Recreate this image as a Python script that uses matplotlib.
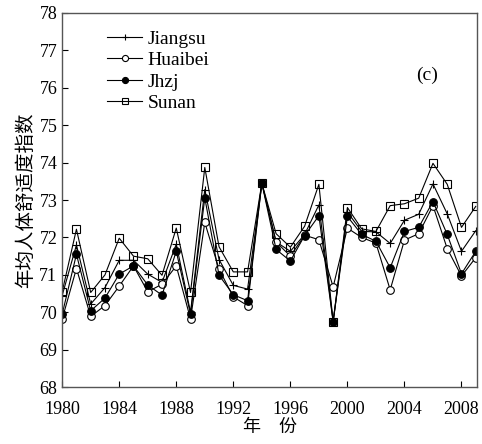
import matplotlib.pyplot as plt
import numpy as np

years = np.arange(1980, 2010)

jiangsu = [70.45, 71.8, 70.22, 70.66, 71.39, 71.39, 71.02, 70.8, 71.82, 70.0,
           73.28, 71.41, 70.72, 70.62, 73.45, 71.88, 71.63, 72.08, 72.87, 69.75,
           72.68, 72.16, 72.15, 71.84, 72.46, 72.62, 73.43, 72.63, 71.63, 72.18]
huaibei = [69.82, 71.17, 69.89, 70.18, 70.7, 71.24, 70.55, 70.75, 71.24, 69.82,
           72.4, 71.15, 70.41, 70.18, 73.45, 71.88, 71.5, 72.06, 71.94, 70.68,
           72.25, 72.0, 71.85, 70.6, 71.93, 72.1, 72.85, 71.7, 70.97, 71.46]
jhzj = [69.95, 71.55, 70.04, 70.38, 71.02, 71.24, 70.73, 70.46, 71.63, 69.95,
        73.06, 70.99, 70.47, 70.31, 73.45, 71.68, 71.37, 72.05, 72.58, 69.75,
        72.56, 72.08, 71.9, 71.19, 72.16, 72.27, 72.96, 72.08, 71.03, 71.63]
sunan = [70.55, 72.22, 70.53, 71.0, 71.98, 71.5, 71.43, 70.99, 72.25, 70.53,
         73.87, 71.75, 71.08, 71.08, 73.45, 72.1, 71.74, 72.3, 73.42, 69.75,
         72.8, 72.23, 72.16, 72.85, 72.9, 73.05, 73.98, 73.42, 72.27, 72.83]

plt.rcParams['font.family'] = ['Liberation Serif', 'Noto Sans CJK SC']

fig = plt.figure(figsize=(4.82, 4.44), dpi=100)
ax = fig.add_axes([0.129, 0.128, 0.861, 0.843])

# series: marker style per region
ax.plot(years, jiangsu, color='black', lw=0.8, marker='+', ms=6, mew=0.8,
        label='Jiangsu')
ax.plot(years, huaibei, color='black', lw=0.8, marker='o', ms=5.5, mfc='white',
        mew=0.8, label='Huaibei')
ax.plot(years, jhzj, color='black', lw=0.8, marker='o', ms=5.5, mfc='black',
        mew=0.8, label='Jhzj')
ax.plot(years, sunan, color='black', lw=0.8, marker='s', ms=5.5, mfc='none',
        mew=0.8, label='Sunan')

ax.set_xlim(1980, 2009.1)
ax.set_ylim(68, 78)
ax.set_xticks(np.arange(1980, 2009, 4))
ax.set_yticks(np.arange(68, 79, 1))
ax.tick_params(direction='in', labelsize=13, length=4, top=False, right=False)
ax.tick_params(axis='x', pad=10)

ax.set_xlabel('年　份', fontsize=13, family='Noto Sans CJK SC', labelpad=0)
ax.set_ylabel('年均人体舒适度指数', fontsize=14, family='Noto Sans CJK SC',
              labelpad=2)

ax.text(0.88, 0.834, '(c)', transform=ax.transAxes, fontsize=14,
        ha='center', va='center')

ax.legend(loc='upper left', bbox_to_anchor=(0.08, 0.985), frameon=False,
          fontsize=14, handlelength=1.8, handletextpad=0.3, labelspacing=0.2,
          borderaxespad=0.2, markerscale=0.8)

for s in ax.spines.values():
    s.set_linewidth(1.0)
    s.set_color('#555555')

fig.savefig('out.png', dpi=100)
